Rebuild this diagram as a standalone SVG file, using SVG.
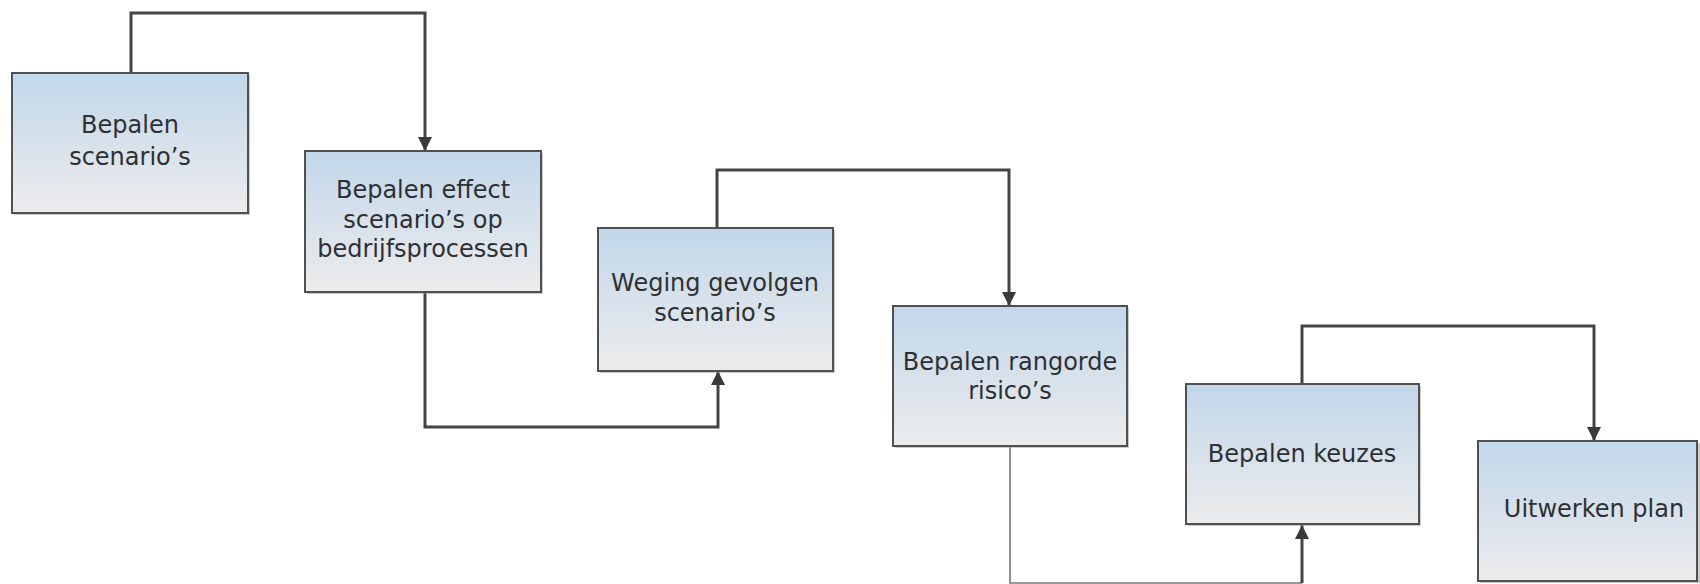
<svg xmlns="http://www.w3.org/2000/svg" width="1700" height="584" viewBox="0 0 1700 584">
<defs>
<linearGradient id="g" x1="0" y1="0" x2="0" y2="1">
<stop offset="0" stop-color="#c2d7ea"/>
<stop offset="1" stop-color="#ececec"/>
</linearGradient>
<marker id="ah" viewBox="0 0 14 14" refX="14" refY="7" markerWidth="14" markerHeight="14" markerUnits="userSpaceOnUse" orient="auto">
<path d="M0,0 L14,7 L0,14 Z" fill="#3a3a3a"/>
</marker>
<style>
.box{fill:url(#g);stroke:#505050;stroke-width:2}
.sh{fill:#9a9a9a;opacity:0.5}
.t{font-family:"DejaVu Sans",Verdana,sans-serif;font-size:24px;fill:#2e3033;text-anchor:middle}
.c{fill:none;stroke:#444;stroke-width:3}
.ct{fill:none;stroke:#777;stroke-width:1.6}
</style>
</defs>
<rect width="1700" height="584" fill="#ffffff"/>
<g id="connectors">
<path class="c" d="M131,73 V13 H425 V151" marker-end="url(#ah)"/>
<path class="c" d="M425,292 V427 H718 V371" marker-end="url(#ah)"/>
<path class="c" d="M717,228 V170 H1009 V306" marker-end="url(#ah)"/>
<path class="ct" d="M1010,446 V583 H1302"/>
<path class="c" d="M1302,583 V525" marker-end="url(#ah)"/>
<path class="c" d="M1302,384 V326 H1594 V441" marker-end="url(#ah)"/>
</g>
<g id="n1">
<rect class="sh" x="14" y="75" width="236" height="140"/>
<rect class="box" x="12" y="73" width="236" height="140"/>
<text class="t" x="130" y="133">Bepalen</text>
<text class="t" x="130" y="165">scenario’s</text>
</g>
<g id="n2">
<rect class="sh" x="307" y="153" width="236" height="141"/>
<rect class="box" x="305" y="151" width="236" height="141"/>
<text class="t" x="423" y="198">Bepalen effect</text>
<text class="t" x="423" y="228">scenario’s op</text>
<text class="t" x="423" y="257">bedrijfsprocessen</text>
</g>
<g id="n3">
<rect class="sh" x="600" y="230" width="235" height="143"/>
<rect class="box" x="598" y="228" width="235" height="143"/>
<text class="t" x="715" y="291">Weging gevolgen</text>
<text class="t" x="715" y="321">scenario’s</text>
</g>
<g id="n4">
<rect class="sh" x="895" y="308" width="234" height="140"/>
<rect class="box" x="893" y="306" width="234" height="140"/>
<text class="t" x="1010" y="370">Bepalen rangorde</text>
<text class="t" x="1010" y="399">risico’s</text>
</g>
<g id="n5">
<rect class="sh" x="1188" y="386" width="233" height="140"/>
<rect class="box" x="1186" y="384" width="233" height="140"/>
<text class="t" x="1302" y="462">Bepalen keuzes</text>
</g>
<g id="n6">
<rect class="sh" x="1480" y="443" width="230" height="140"/>
<rect class="box" x="1478" y="441" width="219" height="140"/>
<text class="t" x="1594" y="517">Uitwerken plan</text>
</g>
</svg>
